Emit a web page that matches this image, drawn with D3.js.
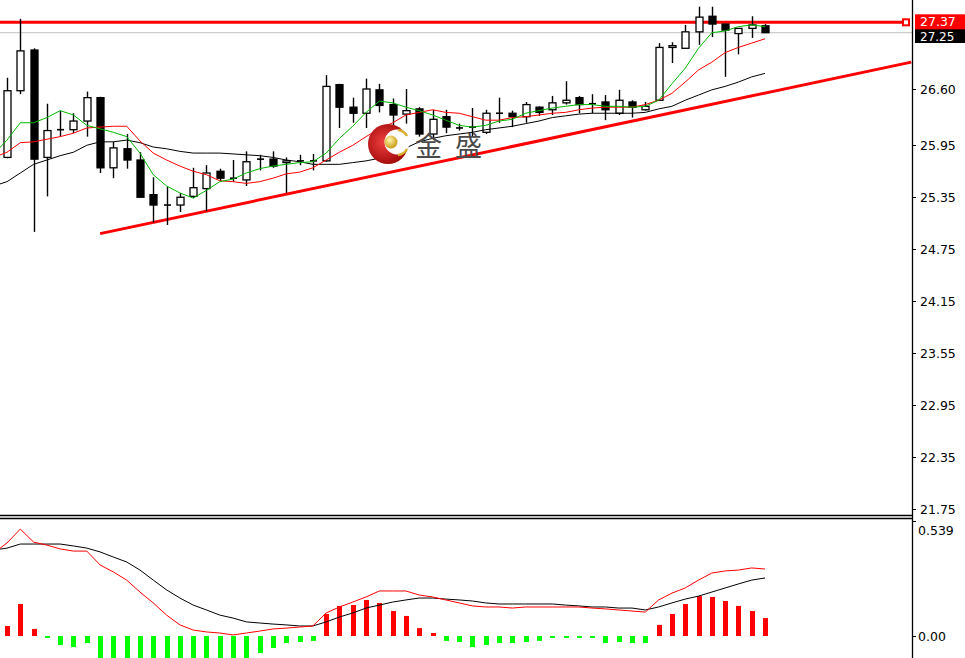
<!DOCTYPE html>
<html><head><meta charset="utf-8">
<script src="https://cdn.jsdelivr.net/npm/d3@7"></script>
<style>html,body{margin:0;padding:0;background:#fff;overflow:hidden}</style>
</head><body><svg id="c" width="965" height="658"></svg>
<script>
// ---------- DATA ----------
const opens  = [25.81,26.58,27.05,25.81,26.12,26.13,26.23,26.50,25.69,25.91,25.78,25.38,25.25,25.26,25.36,25.45,25.65,25.56,25.55,25.78,25.79,25.75,25.76,25.76,25.77,26.65,26.39,26.32,26.59,26.42,26.31,26.37,26.08,26.28,26.16,26.15,26.10,26.31,26.32,26.28,26.39,26.36,26.44,26.50,26.42,26.45,26.32,26.45,26.36,26.47,27.08,27.07,27.26,27.44,27.35,27.24,27.30,27.33];
const highs  = [26.73,27.41,27.07,26.43,26.35,26.32,26.57,26.51,25.99,26.08,25.87,25.58,25.47,25.40,25.69,25.72,25.68,25.78,25.88,25.84,25.88,25.81,25.84,25.85,26.76,26.66,26.50,26.72,26.66,26.49,26.60,26.39,26.36,26.36,26.20,26.38,26.36,26.50,26.35,26.45,26.40,26.52,26.69,26.52,26.54,26.53,26.59,26.47,26.45,27.13,27.14,27.34,27.55,27.55,27.35,27.30,27.44,27.35];
const lows   = [25.80,26.54,24.95,25.36,26.05,26.09,26.05,25.63,25.57,25.68,25.35,25.06,25.03,25.18,25.34,25.19,25.53,25.53,25.48,25.66,25.69,25.40,25.72,25.66,25.76,26.15,26.21,26.15,26.33,26.16,26.20,26.05,26.03,26.09,26.12,26.05,26.08,26.21,26.16,26.21,26.29,26.30,26.42,26.32,26.32,26.24,26.30,26.27,26.35,26.47,26.90,27.07,27.11,27.20,26.74,27.00,27.19,27.25];
const closes = [26.58,27.04,25.79,26.12,26.13,26.23,26.50,25.69,25.92,25.78,25.35,25.26,25.26,25.35,25.46,25.63,25.57,25.57,25.76,25.79,25.71,25.77,25.77,25.77,26.63,26.39,26.32,26.60,26.41,26.30,26.35,26.08,26.25,26.16,26.15,26.16,26.32,26.32,26.28,26.42,26.33,26.44,26.47,26.42,26.43,26.36,26.47,26.39,26.40,27.08,27.10,27.26,27.43,27.35,27.28,27.30,27.34,27.25];

// moving averages: first value belongs to the bar just before the first visible bar
const maFast = [25.85,26.01,26.21,26.21,26.27,26.35,26.30,26.18,26.14,26.10,26.05,25.86,25.61,25.48,25.40,25.34,25.43,25.53,25.56,25.63,25.68,25.71,25.73,25.75,25.76,25.86,26.03,26.17,26.33,26.46,26.44,26.39,26.35,26.30,26.24,26.18,26.16,26.18,26.23,26.25,26.32,26.35,26.38,26.40,26.42,26.42,26.40,26.40,26.39,26.40,26.47,26.66,26.84,27.07,27.25,27.27,27.32,27.34,27.32];
const maMid  = [25.81,25.87,25.98,25.99,26.02,26.05,26.09,26.15,26.16,26.17,26.17,26.00,25.86,25.78,25.71,25.65,25.61,25.54,25.53,25.51,25.53,25.57,25.62,25.64,25.69,25.78,25.87,25.95,26.05,26.14,26.21,26.30,26.33,26.36,26.33,26.32,26.28,26.24,26.24,26.27,26.28,26.30,26.32,26.33,26.36,26.38,26.39,26.39,26.39,26.42,26.47,26.55,26.68,26.82,26.91,27.02,27.08,27.13,27.18];
const maSlow = [25.48,25.53,25.63,25.73,25.78,25.83,25.87,25.95,25.99,25.99,26.01,25.98,25.93,25.91,25.88,25.86,25.86,25.86,25.85,25.84,25.83,25.81,25.78,25.76,25.73,25.73,25.73,25.75,25.77,25.80,25.86,25.92,25.99,26.03,26.06,26.08,26.10,26.13,26.15,26.17,26.20,26.23,26.27,26.29,26.31,26.32,26.32,26.32,26.32,26.33,26.37,26.40,26.47,26.53,26.59,26.63,26.68,26.74,26.78];

// MACD lines: first value belongs to the bar before the first visible bar
const macdDif = [0.389,0.436,0.501,0.440,0.426,0.408,0.398,0.398,0.333,0.300,0.262,0.206,0.155,0.098,0.052,0.028,0.019,0.014,0.005,0.014,0.023,0.033,0.037,0.042,0.047,0.108,0.136,0.159,0.183,0.211,0.211,0.211,0.192,0.183,0.169,0.155,0.141,0.136,0.136,0.131,0.136,0.136,0.136,0.136,0.136,0.131,0.127,0.122,0.117,0.112,0.169,0.201,0.225,0.262,0.295,0.305,0.309,0.319,0.314];
const macdDea = [0.403,0.412,0.431,0.431,0.431,0.431,0.422,0.412,0.394,0.370,0.347,0.309,0.262,0.216,0.178,0.145,0.122,0.098,0.084,0.066,0.061,0.056,0.052,0.047,0.047,0.066,0.089,0.108,0.131,0.145,0.159,0.169,0.178,0.178,0.173,0.169,0.164,0.155,0.150,0.150,0.150,0.150,0.150,0.145,0.141,0.136,0.136,0.131,0.131,0.122,0.136,0.155,0.173,0.187,0.206,0.225,0.244,0.262,0.272];
const macdHist = [0.047,0.150,0.033,-0.009,-0.042,-0.052,-0.033,-0.122,-0.141,-0.169,-0.206,-0.216,-0.234,-0.253,-0.234,-0.206,-0.169,-0.159,-0.103,-0.080,-0.056,-0.033,-0.028,-0.023,0.103,0.141,0.145,0.169,0.155,0.117,0.094,0.037,0.014,-0.023,-0.028,-0.052,-0.042,-0.033,-0.033,-0.028,-0.023,-0.009,-0.009,-0.009,-0.009,-0.033,-0.028,-0.033,-0.033,0.052,0.103,0.150,0.187,0.183,0.164,0.141,0.117,0.084];

const priceTicks = [26.60,25.95,25.35,24.75,24.15,23.55,22.95,22.35,21.75];
const macdTicks  = [0.539,0.00];
const resistanceLevel = 27.37;
const lastPrice = 27.25;
const trendPoints = [{i:7, v:24.93},{i:68, v:26.91}];
const logoText = "金盛";

// ---------- LAYOUT ----------
const W = 965, H = 658, axisX = 912, mainBottom = 515, subTop = 518;
const svg = d3.select('#c');
svg.append('rect').attr('width',W).attr('height',H).attr('fill','#fff');

const x  = d3.scaleLinear().domain([0, 57]).range([7, 765]);
const y  = d3.scaleLinear().domain([21.75, 26.60]).range([509, 89]);
const ym = d3.scaleLinear().domain([0, 0.539]).range([636, 521]);

const defs = svg.append('defs');
defs.append('clipPath').attr('id','clipMain').append('rect').attr('x',0).attr('y',0).attr('width',axisX).attr('height',mainBottom);
defs.append('clipPath').attr('id','clipSub').append('rect').attr('x',0).attr('y',subTop+1).attr('width',axisX).attr('height',H-subTop);

const main = svg.append('g').attr('clip-path','url(#clipMain)');
const sub  = svg.append('g').attr('clip-path','url(#clipSub)');

// horizontal objects (background)
main.append('line').attr('x1',0).attr('x2',axisX).attr('y1',y(lastPrice)).attr('y2',y(lastPrice))
  .attr('stroke','#c0c0c0').attr('stroke-width',1);
main.append('line').attr('x1',0).attr('x2',903).attr('y1',y(resistanceLevel)).attr('y2',y(resistanceLevel))
  .attr('stroke','#ff0000').attr('stroke-width',3);
main.append('rect').attr('x',903).attr('y',y(resistanceLevel)-3).attr('width',6).attr('height',6)
  .attr('fill','#fff').attr('stroke','#ff0000').attr('stroke-width',2);

// trendline
main.append('line')
  .attr('x1',x(trendPoints[0].i)).attr('y1',y(trendPoints[0].v))
  .attr('x2',x(trendPoints[1].i)).attr('y2',y(trendPoints[1].v))
  .attr('stroke','#ff0000').attr('stroke-width',3);

// candles
const candles = opens.map((o,i)=>({i,o,h:highs[i],l:lows[i],c:closes[i]}));
const cg = main.append('g');
candles.forEach(d=>{
  const cx = Math.round(x(d.i)) + 0.5;
  cg.append('line').attr('x1',cx).attr('x2',cx).attr('y1',y(d.h)).attr('y2',y(d.l))
    .attr('stroke','#000').attr('stroke-width',1.4);
  const yt = y(Math.max(d.o,d.c)), yb = y(Math.min(d.o,d.c));
  if (yb - yt < 1.5) {
    cg.append('line').attr('x1',cx-3.5).attr('x2',cx+3.5).attr('y1',y(d.c)).attr('y2',y(d.c))
      .attr('stroke','#000').attr('stroke-width',1.6);
  } else {
    cg.append('rect').attr('x',cx-3.5).attr('y',yt).attr('width',7).attr('height',yb-yt)
      .attr('fill', d.c >= d.o ? '#fff' : '#000').attr('stroke','#000').attr('stroke-width',1.3);
  }
});

// moving averages
const maLine = d3.line().x((d,k)=>x(k-1)).y(d=>y(d));
main.append('path').attr('d',maLine(maSlow)).attr('fill','none').attr('stroke','#000').attr('stroke-width',1);
main.append('path').attr('d',maLine(maMid)).attr('fill','none').attr('stroke','#ff0000').attr('stroke-width',1);
main.append('path').attr('d',maLine(maFast)).attr('fill','none').attr('stroke','#00b800').attr('stroke-width',1);

// logo watermark
const rg = defs.append('radialGradient').attr('id','redG').attr('cx','40%').attr('cy','45%').attr('r','60%');
rg.append('stop').attr('offset','0%').attr('stop-color','#f04040');
rg.append('stop').attr('offset','100%').attr('stop-color','#a00808');
const gg = defs.append('radialGradient').attr('id','goldG').attr('cx','40%').attr('cy','35%').attr('r','65%');
gg.append('stop').attr('offset','0%').attr('stop-color','#fff6b0');
gg.append('stop').attr('offset','100%').attr('stop-color','#c89a10');
const logo = main.append('g');
logo.append('circle').attr('cx',388).attr('cy',144).attr('r',20).attr('fill','url(#redG)');
logo.append('circle').attr('cx',397).attr('cy',142).attr('r',12.5).attr('fill','#fff');
logo.append('path').attr('d','M 398 130 A 12 12 0 0 1 407 136').attr('fill','none').attr('stroke','#d8b030').attr('stroke-width',2.5);
logo.append('path').attr('d','M 407 149 A 12 12 0 0 1 398 155').attr('fill','none').attr('stroke','#d8b030').attr('stroke-width',2.5);
logo.append('circle').attr('cx',391).attr('cy',142).attr('r',6.5).attr('fill','url(#goldG)');
main.append('text').attr('x',415).attr('y',156).text(logoText)
  .attr('font-family','"Noto Sans CJK SC", sans-serif').attr('font-size',27)
  .attr('letter-spacing',13).attr('fill','#4a4a4a');

// MACD
sub.selectAll('rect.h').data(macdHist).enter().append('rect')
  .attr('x',(d,i)=>Math.round(x(i))-2).attr('width',5)
  .attr('y',d=>d>=0?ym(d):ym(0)).attr('height',d=>Math.max(1,Math.abs(ym(d)-ym(0))))
  .attr('fill',d=>d>=0?'#ff0000':'#00ff00');
const mLine = d3.line().x((d,k)=>x(k-1)).y(d=>ym(d));
sub.append('path').attr('d',mLine(macdDea)).attr('fill','none').attr('stroke','#000').attr('stroke-width',1);
sub.append('path').attr('d',mLine(macdDif)).attr('fill','none').attr('stroke','#ff0000').attr('stroke-width',1);

// frames
svg.append('line').attr('x1',axisX+0.5).attr('x2',axisX+0.5).attr('y1',0).attr('y2',H).attr('stroke','#000').attr('stroke-width',1.3);
svg.append('line').attr('x1',0).attr('x2',axisX+0.5).attr('y1',mainBottom+0.5).attr('y2',mainBottom+0.5).attr('stroke','#000').attr('stroke-width',1.3);
svg.append('line').attr('x1',0).attr('x2',axisX+0.5).attr('y1',subTop+0.5).attr('y2',subTop+0.5).attr('stroke','#000').attr('stroke-width',1.3);

// price axis
const font = '"DejaVu Sans", Verdana, sans-serif';
const ax = svg.append('g');
priceTicks.forEach(v=>{
  ax.append('line').attr('x1',axisX).attr('x2',axisX+4).attr('y1',Math.round(y(v))+0.5).attr('y2',Math.round(y(v))+0.5).attr('stroke','#000');
  ax.append('text').attr('x',920).attr('y',y(v)).attr('dy','0.36em').text(v.toFixed(2))
    .attr('font-family',font).attr('font-size',12.5).attr('fill','#000');
});
macdTicks.forEach(v=>{
  ax.append('line').attr('x1',axisX).attr('x2',axisX+4).attr('y1',Math.round(ym(v))+0.5).attr('y2',Math.round(ym(v))+0.5).attr('stroke','#000');
  ax.append('text').attr('x',918).attr('y',v>0?ym(v)+9:ym(v)).attr('dy','0.36em').text(v>0?v.toFixed(3):v.toFixed(2))
    .attr('font-family',font).attr('font-size',12.5).attr('fill','#000');
});

// current price boxes (last price box sits just below the resistance box)
ax.append('rect').attr('x',915).attr('y',29).attr('width',50).attr('height',14).attr('fill','#000');
ax.append('text').attr('x',920).attr('y',36.5).attr('dy','0.36em').text(lastPrice.toFixed(2))
  .attr('font-family',font).attr('font-size',12).attr('fill','#fff');
ax.append('rect').attr('x',915).attr('y',y(resistanceLevel)-8).attr('width',50).attr('height',15).attr('fill','#ff0000');
ax.append('text').attr('x',920).attr('y',y(resistanceLevel)-0.5).attr('dy','0.36em').text(resistanceLevel.toFixed(2))
  .attr('font-family',font).attr('font-size',12.5).attr('fill','#fff');
</script></body></html>
